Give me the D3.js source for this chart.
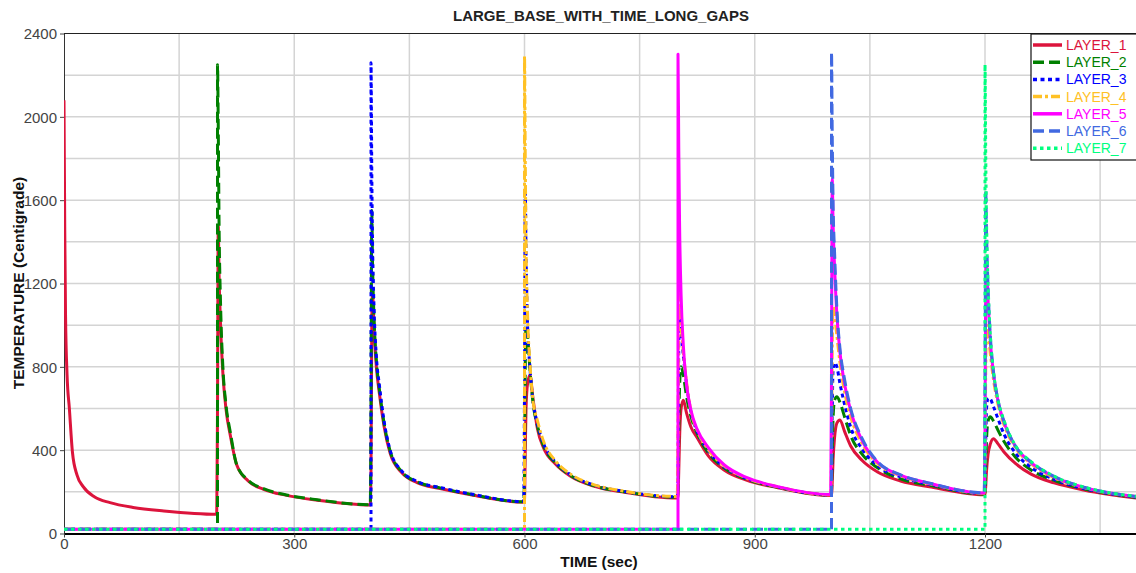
<!DOCTYPE html>
<html>
<head>
<meta charset="utf-8">
<script src="https://d3js.org/d3.v7.min.js"></script>
<style>
body { margin: 0; background: #fff; }
text { font-family: "Liberation Sans", Arial, sans-serif; }
</style>
</head>
<body>
<svg width="1136" height="573"></svg>
<script>
var svg = d3.select('svg');

// layers, colours and when each one is switched on
var layerNames = ['LAYER_1', 'LAYER_2', 'LAYER_3', 'LAYER_4', 'LAYER_5', 'LAYER_6', 'LAYER_7'];
var layerColors = ['#dc143c', '#008000', '#0000ff', '#ffc125', '#ff00ff', '#4169e1', '#00ff7f'];
var layerDash = [null, '11,5', '4,3.5', '9,3,3,3', null, '11,5', '3.5,3.5'];
var startTimes = [0, 200, 400, 600, 800, 1000, 1200];
var ambientTemp = 20;

// sample times inside each 200 sec period (sec after the period start)
var cycleOffsets = [0, 1, 2, 4, 7, 11, 17, 25, 40, 60, 90, 130, 199];

// temperatures, one row of 13 per period, from the layer's start
var layer1 = [
    2080, 1450, 1050, 760, 600, 390, 280, 225, 175, 148, 125, 108, 92,
    600, 1480, 1250, 1000, 770, 600, 465, 330, 252, 212, 183, 160, 137,
    300, 1000, 1150, 980, 800, 670, 515, 385, 292, 244, 216, 186, 150,
    160, 400, 600, 720, 760, 650, 500, 410, 335, 275, 228, 198, 170,
    180, 300, 450, 600, 640, 580, 510, 460, 370, 305, 255, 220, 182,
    185, 250, 350, 460, 530, 545, 490, 420, 350, 295, 252, 223, 186,
    188, 230, 300, 380, 430, 455, 430, 390, 335, 285, 243, 208, 170
];
var layer2 = [
    2250, 1950, 1500, 1100, 800, 620, 480, 330, 255, 215, 185, 162, 138,
    600, 1550, 1300, 1030, 830, 690, 530, 395, 297, 248, 219, 188, 152,
    300, 800, 1000, 950, 790, 630, 515, 420, 340, 278, 230, 200, 174,
    200, 500, 700, 800, 760, 660, 560, 480, 385, 315, 260, 222, 184,
    200, 400, 550, 640, 657, 630, 560, 470, 380, 315, 262, 230, 190,
    200, 320, 450, 540, 560, 540, 495, 440, 365, 305, 255, 214, 172
];
var layer3 = [
    2260, 1750, 1400, 1080, 850, 710, 540, 400, 300, 250, 221, 190, 153,
    700, 1650, 1350, 1000, 800, 640, 525, 430, 345, 282, 233, 202, 176,
    300, 900, 1050, 980, 850, 720, 580, 490, 395, 320, 263, 223, 185,
    250, 600, 780, 820, 800, 720, 620, 510, 405, 325, 272, 234, 192,
    250, 450, 600, 650, 645, 610, 550, 475, 385, 318, 260, 215, 174
];
var layer4 = [
    2290, 1800, 1400, 1050, 820, 640, 540, 440, 350, 285, 235, 203, 178,
    500, 1150, 1100, 1000, 870, 730, 585, 495, 400, 325, 265, 224, 186,
    400, 900, 1090, 1050, 950, 820, 680, 560, 430, 336, 277, 237, 193,
    350, 800, 1000, 960, 860, 740, 620, 520, 410, 335, 268, 219, 176
];
var layer5 = [
    2300, 1850, 1500, 1150, 900, 720, 590, 500, 410, 330, 268, 225, 187,
    800, 1700, 1500, 1280, 1050, 870, 720, 590, 445, 342, 280, 239, 194,
    500, 1250, 1300, 1120, 920, 770, 635, 532, 416, 340, 272, 220, 177
];
var layer6 = [
    2310, 1900, 1600, 1350, 1080, 890, 740, 600, 455, 345, 282, 240, 195,
    700, 1650, 1450, 1180, 945, 778, 638, 536, 418, 343, 274, 221, 177
];
var layer7 = [
    2250, 1800, 1500, 1200, 950, 780, 640, 540, 420, 345, 275, 222, 178
];
var layerValues = [layer1, layer2, layer3, layer4, layer5, layer6, layer7];

var yLabelTicks = [0, 400, 800, 1200, 1600, 2000, 2400];
var yGridTicks = [200, 400, 600, 800, 1000, 1200, 1400, 1600, 1800, 2000, 2200];
var xLabelTicks = [0, 300, 600, 900, 1200];
var xGridTicks = [150, 300, 450, 600, 750, 900, 1050, 1200, 1350];

var x = d3.scaleLinear().domain([0, 1400]).range([64, 1138.5]);
var y = d3.scaleLinear().domain([0, 2400]).range([533.5, 33.5]);

// turn a layer's values into [time, temp] points
function buildSeries(vals, layerIndex) {
    var pts = [];
    var start = startTimes[layerIndex];
    if (start > 0) {
        pts.push([0, ambientTemp]);
        pts.push([start, ambientTemp]);
    }
    vals.forEach(function(v, i){
        var cycle = Math.floor(i / cycleOffsets.length);
        var t = startTimes[layerIndex + cycle] + cycleOffsets[i % cycleOffsets.length];
        pts.push([t, v]);
    });
    return pts;
}

var series = layerValues.map(function(vals, i){
    return {name: layerNames[i], color: layerColors[i], dash: layerDash[i], points: buildSeries(vals, i)};
});

// grid
svg.append('g').selectAll('line')
    .data(yGridTicks)
    .enter()
    .append('line')
    .attr('x1', 64).attr('x2', 1136)
    .attr('y1', function(d){ return y(d); })
    .attr('y2', function(d){ return y(d); })
    .attr('stroke', '#d4d4d4')
    .attr('stroke-width', 1.5);

svg.append('g').selectAll('line')
    .data(xGridTicks)
    .enter()
    .append('line')
    .attr('x1', function(d){ return x(d); })
    .attr('x2', function(d){ return x(d); })
    .attr('y1', 33.5).attr('y2', 533.5)
    .attr('stroke', '#d4d4d4')
    .attr('stroke-width', 1.5);

// axes
var yAxis = svg.append('g')
    .attr('transform', 'translate(64,0)')
    .call(d3.axisLeft(y).tickValues(yLabelTicks).tickSize(4).tickSizeOuter(0).tickFormat(d3.format('d')));
yAxis.select('.domain').attr('stroke', '#333');
yAxis.selectAll('text').attr('font-size', '15px').attr('fill', '#444').attr('dy', '0.36em');
yAxis.selectAll('.tick line').attr('stroke', '#444');

var xAxis = svg.append('g')
    .attr('transform', 'translate(0,533.5)')
    .call(d3.axisBottom(x).tickValues(xLabelTicks).tickSize(4).tickSizeOuter(0).tickFormat(d3.format('d')));
xAxis.select('.domain').attr('stroke', '#000').attr('stroke-width', 2);
xAxis.selectAll('text').attr('font-size', '15px').attr('fill', '#444').attr('dy', '0.55em');
xAxis.selectAll('.tick line').attr('stroke', '#444');

// top border
svg.append('line')
    .attr('x1', 64).attr('x2', 1136)
    .attr('y1', 33.5).attr('y2', 33.5)
    .attr('stroke', '#222');

// lines
svg.append('clipPath').attr('id', 'plotclip')
    .append('rect')
    .attr('x', 64).attr('y', 33.5)
    .attr('width', 1080).attr('height', 500);

var line = d3.line()
    .curve(d3.curveMonotoneX)
    .x(function(d){ return x(d[0]); })
    .y(function(d){ return y(d[1]); });

svg.append('g')
    .attr('clip-path', 'url(#plotclip)')
    .selectAll('path')
    .data(series)
    .enter()
    .append('path')
    .attr('d', function(d){ return line(d.points); })
    .attr('fill', 'none')
    .attr('stroke', function(d){ return d.color; })
    .attr('stroke-width', 3)
    .attr('stroke-dasharray', function(d){ return d.dash; })
    .attr('stroke-linejoin', 'round');

// titles
svg.append('text')
    .attr('x', 601).attr('y', 20.5)
    .attr('text-anchor', 'middle')
    .attr('font-size', '15px')
    .attr('font-weight', 'bold')
    .attr('fill', '#222')
    .text('LARGE_BASE_WITH_TIME_LONG_GAPS');

svg.append('text')
    .attr('x', 599).attr('y', 567)
    .attr('text-anchor', 'middle')
    .attr('font-size', '15.5px')
    .attr('font-weight', 'bold')
    .attr('fill', '#111')
    .text('TIME (sec)');

svg.append('text')
    .attr('transform', 'translate(23.5,283) rotate(-90)')
    .attr('text-anchor', 'middle')
    .attr('font-size', '15.5px')
    .attr('font-weight', 'bold')
    .attr('fill', '#111')
    .text('TEMPERATURE (Centigrade)');

// legend
var legend = svg.append('g');
legend.append('rect')
    .attr('x', 1031).attr('y', 34)
    .attr('width', 120).attr('height', 126)
    .attr('fill', '#fff')
    .attr('stroke', '#111')
    .attr('stroke-width', 1.2);

var rows = legend.selectAll('g.row')
    .data(series)
    .enter()
    .append('g')
    .attr('class', 'row')
    .attr('transform', function(d, i){ return 'translate(0,' + (45 + i * 17.2) + ')'; });

rows.append('line')
    .attr('x1', 1033).attr('x2', 1062)
    .attr('y1', 0).attr('y2', 0)
    .attr('stroke', function(d){ return d.color; })
    .attr('stroke-width', 3.5)
    .attr('stroke-dasharray', function(d){ return d.dash; });

rows.append('text')
    .attr('x', 1066).attr('y', 5)
    .attr('font-size', '14px')
    .attr('fill', function(d){ return d.color; })
    .text(function(d){ return d.name; });
</script>
</body>
</html>
